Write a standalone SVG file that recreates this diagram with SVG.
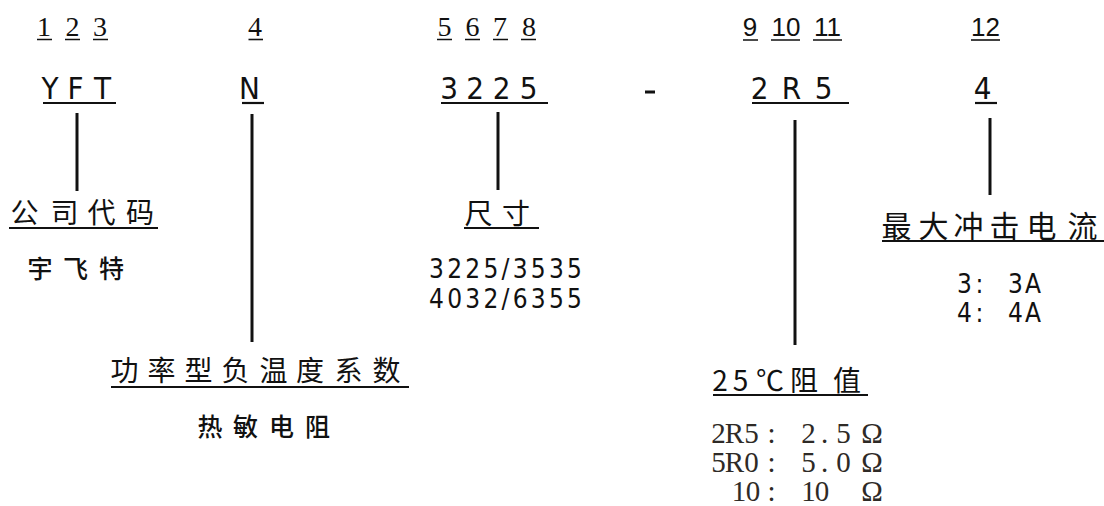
<svg xmlns="http://www.w3.org/2000/svg" width="1104" height="506" viewBox="0 0 1104 506">
<style>
.bg{fill:#fff}
.num{font-family:"Liberation Serif","DejaVu Serif",serif;font-size:28px;fill:#111;text-anchor:middle}
.nums{font-family:"Liberation Sans",Arial,sans-serif;font-size:26px;fill:#111;text-anchor:middle}
.code{font-family:"Liberation Sans Narrow","DejaVu Sans Condensed","Liberation Sans",sans-serif;font-stretch:condensed;font-size:31px;fill:#111;text-anchor:middle}
.cjk{font-family:"Noto Sans CJK SC","Noto Sans",sans-serif;font-size:28px;fill:#111;text-anchor:middle}
.cjks{font-family:"Noto Sans CJK SC","Noto Sans",sans-serif;font-size:25px;font-weight:500;fill:#111;text-anchor:middle}
.val{font-family:"Liberation Sans Narrow","DejaVu Sans Condensed","Liberation Sans",sans-serif;font-stretch:condensed;font-size:26px;fill:#111}
.ohm{font-family:"Liberation Serif","DejaVu Serif",serif;font-size:29px;fill:#2e2a26;text-anchor:middle}
.ul{stroke:#111;stroke-width:1.6;fill:none}
.ul2{stroke:#111;stroke-width:2.2;fill:none}
.conn{stroke:#111;stroke-width:3;fill:none}
</style>
<rect class="bg" x="0" y="0" width="1104" height="506"/>

<g id="positions">
  <g id="pos-1-3">
    <text class="num" x="44 72.5 100" y="36">123</text>
    <path class="ul" d="M37 39.5H52M65 39.5H80M93 39.5H108"/>
  </g>
  <g id="pos-4">
    <text class="num" x="255" y="36">4</text>
    <path class="ul" d="M248.5 39.5H263"/>
  </g>
  <g id="pos-5-8">
    <text class="num" x="444.5 472.5 500 529" y="36">5678</text>
    <path class="ul" d="M437 39.5H452M465 39.5H480M493 39.5H508M521 39.5H536"/>
  </g>
  <g id="pos-9-11">
    <text class="nums" x="750" y="36">9</text>
    <text class="nums" x="786" y="36">10</text>
    <text class="nums" x="827.5" y="36">11</text>
    <path class="ul" d="M743 40H758M771 40H800M813 40H842"/>
  </g>
  <g id="pos-12">
    <text class="nums" x="985.5" y="36">12</text>
    <path class="ul" d="M971 40H1000"/>
  </g>
</g>

<g id="code-YFT">
  <text class="code" x="50 75.5 102.5" y="99">YFT</text>
  <path class="ul2" d="M43 103H116"/>
</g>
<g id="code-N">
  <text class="code" x="249.5" y="99">N</text>
  <path class="ul2" d="M242 103H264"/>
</g>
<g id="code-3225">
  <text class="code" x="449 475 501.5 528.5" y="99">3225</text>
  <path class="ul2" d="M441 103H548"/>
</g>
<g id="dash">
  <rect x="645" y="90.5" width="10" height="3" fill="#111"/>
</g>
<g id="code-2R5">
  <text class="code" x="759.5 791.5 823.5" y="99">2R5</text>
  <path class="ul2" d="M752 103H849"/>
</g>
<g id="code-4">
  <text class="code" x="982.5" y="99">4</text>
  <path class="ul2" d="M975 103H997"/>
</g>

<g id="connectors">
  <path class="conn" d="M77 113V191"/>
  <path class="conn" d="M252 114V342"/>
  <path class="conn" d="M498 112V190"/>
  <path class="conn" d="M795 120V345"/>
  <path class="conn" d="M990 118V195"/>
</g>

<g id="label-company">
  <text class="cjk" x="24.5 64.5 101.5 140" y="223">公司代码</text>
  <path class="ul2" d="M9 228H158"/>
  <text class="cjks" x="40 75.5 111.5" y="278">宇飞特</text>
</g>

<g id="label-type">
  <text class="cjk" x="124.5 161.5 198.5 235.5 273.5 310 348.5 386.5" y="381">功率型负温度系数</text>
  <path class="ul2" d="M111 387H409"/>
  <text class="cjks" x="210 245.5 281.5 317.5" y="436">热敏电阻</text>
</g>

<g id="label-size">
  <text class="cjk" x="478.5 516" y="224">尺寸</text>
  <path class="ul2" d="M464 228H539"/>
  <text class="val" x="429" y="278" textLength="153" lengthAdjust="spacing">3225/3535</text>
  <text class="val" x="429" y="308" textLength="153" lengthAdjust="spacing">4032/6355</text>
</g>

<g id="label-resistance">
  <text class="cjk" x="720 740.5 770 804 847" y="391">25℃阻值</text>
  <path class="ul2" d="M713 395H868"/>
  <text class="ohm" x="718.5 734.5 751.5 771.5 808.5 824.5 843.5 872" y="443">2R5:2.5Ω</text>
  <text class="ohm" x="718.5 734.5 751.5 771.5 808.5 824.5 843.5 872" y="472">5R0:5.0Ω</text>
  <text class="ohm" x="739 753 771.5 808.5 822 872" y="501">10:10Ω</text>
</g>

<g id="label-current">
  <text class="cjk" style="font-size:30px" x="896.5 933.5 968.5 1004.5 1041.5 1082.5" y="237">最大冲击电流</text>
  <path class="ul2" d="M882 241H1104"/>
  <text class="val" style="text-anchor:middle" x="964.5 979.5 1015.5 1033" y="293">3:3A</text>
  <text class="val" style="text-anchor:middle" x="964.5 979.5 1015.5 1033" y="322">4:4A</text>
</g>
</svg>
